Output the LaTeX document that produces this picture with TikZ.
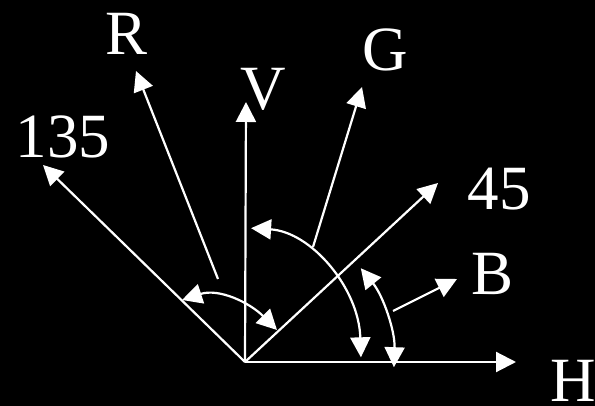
\documentclass[tikz,border=0pt]{standalone}
\usepackage{fontspec}
\setmainfont{Liberation Serif}
\usetikzlibrary{arrows.meta}

\begin{document}
\begin{tikzpicture}[x=1pt,y=1pt,>={Triangle[length=20pt,width=20pt]},
  vec/.style={draw=white,line width=2.2pt,->},
  sweep/.style={draw=white,line width=2.2pt,<->},
  lbl/.style={text=white,inner sep=0pt,anchor=base,font=\fontsize{63}{63}\selectfont}]
% background and frame
\fill[black] (-245,-44) rectangle (350,362);
\useasboundingbox (-245,-44) rectangle (350,362);
% end points
\coordinate (O) at (0,0);
\coordinate (Ht) at (271,0);
\coordinate (Vt) at (1,260);
\coordinate (Lt) at (-202,197);
\coordinate (Dt) at (193,179);
\coordinate (Rs) at (-27,83);
\coordinate (Rt) at (-109,291);
\coordinate (Gs) at (68,115);
\coordinate (Gt) at (117,275);
\coordinate (Bs) at (148,51);
\coordinate (Bt) at (212,83);
% vectors
\draw[vec] (O) -- (Ht);
\draw[vec] (O) -- (Vt);
\draw[vec] (O) -- (Lt);
\draw[vec] (O) -- (Dt);
\draw[vec] (Rs) -- (Rt);
\draw[vec] (Gs) -- (Gt);
\draw[vec] (Bs) -- (Bt);
% angle sweeps
\coordinate (a1) at (-63,62);
\coordinate (a2) at (32,32);
\draw[sweep] (a1) to[out=18,in=135] (a2);
\draw[sweep] (87:116 and 134) arc[start angle=87,end angle=2,x radius=116,y radius=134];
\draw[sweep] (39:149) arc[start angle=39,end angle=-2,radius=149];
% labels
\node[lbl] (hl) at (328,-40) {H};
\node[lbl] (vl) at (18,252) {V};
\node[lbl] (rl) at (-118,307) {R};
\node[lbl] (gl) at (140,291) {G};
\node[lbl] (bl) at (248,67) {B};
\node[lbl] (l45) at (254,152) {45};
\node[lbl] (l135) at (-182,204) {135};
\end{tikzpicture}
\end{document}
